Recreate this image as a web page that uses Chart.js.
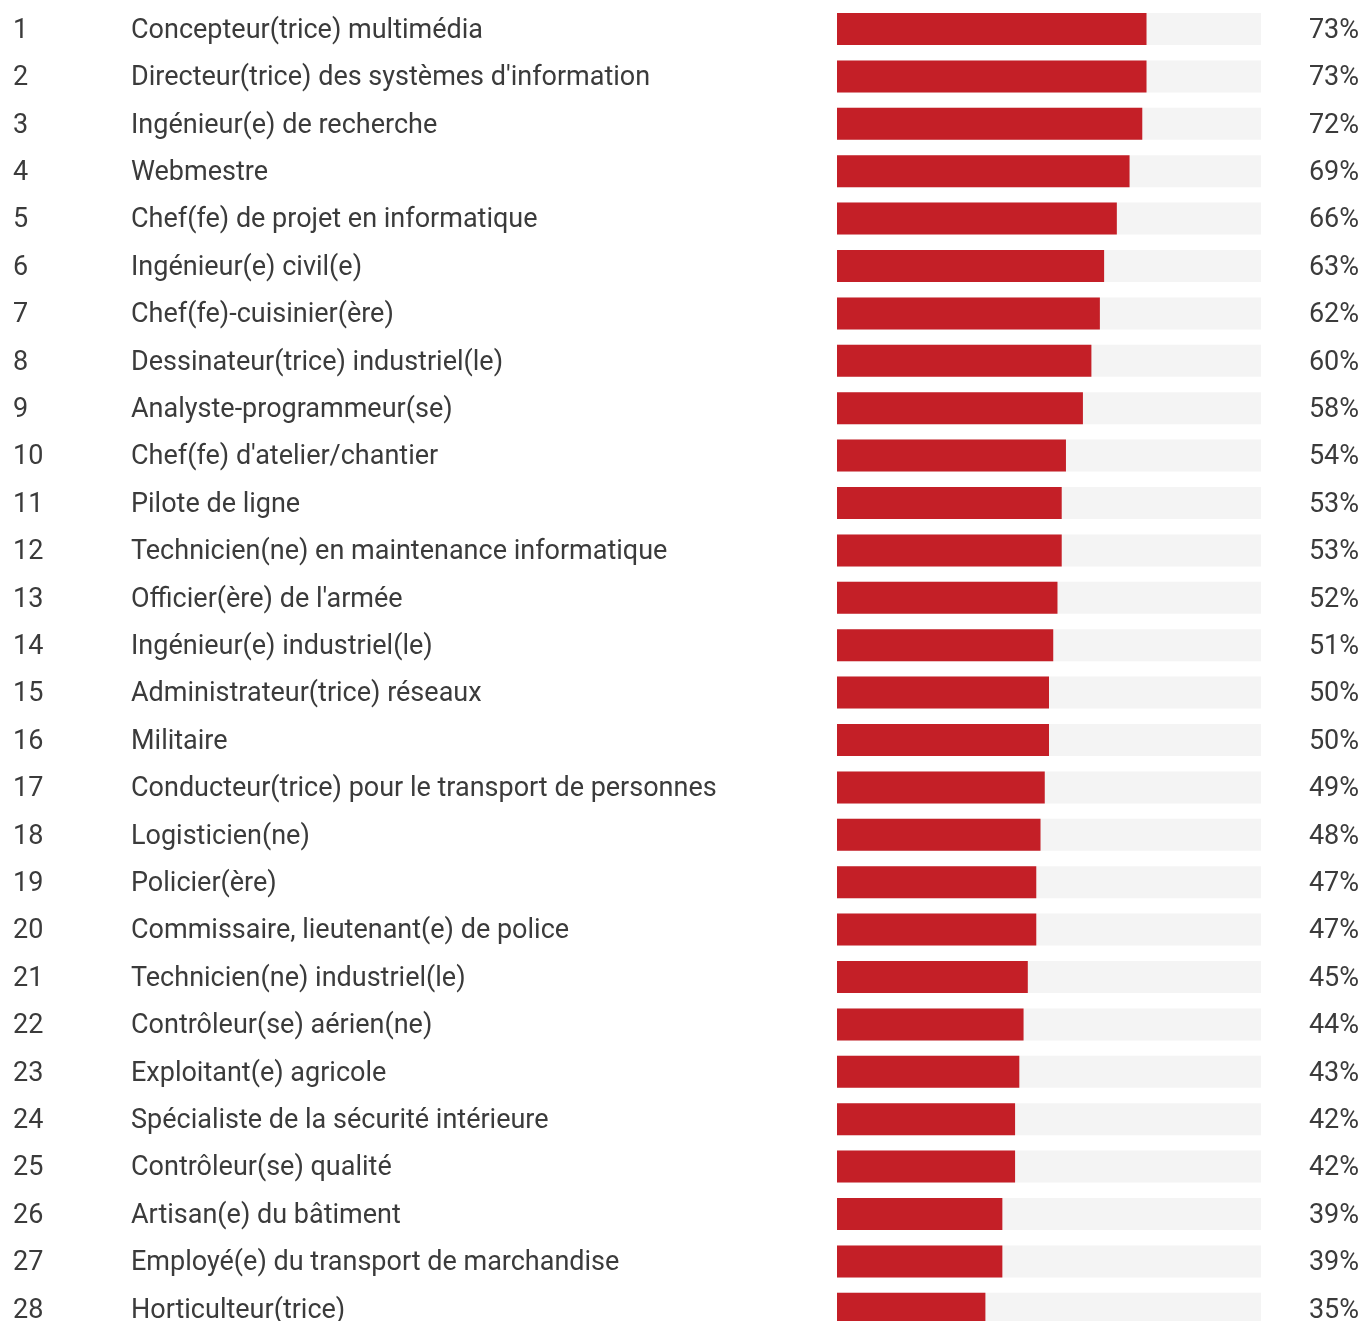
<!DOCTYPE html>
<html lang="fr">
<head>
<meta charset="utf-8">
<title>Métiers</title>
<script src="https://cdn.jsdelivr.net/npm/chart.js@4/dist/chart.umd.min.js"></script>
<style>
  html, body { margin: 0; padding: 0; background: #ffffff; overflow: hidden; }
  #wrap { width: 1364px; height: 1340px; }
</style>
</head>
<body>
<div id="wrap"><canvas id="chart" width="1364" height="1340"></canvas></div>
<script>
const ranks = ["1","2","3","4","5","6","7","8","9","10","11","12","13","14","15","16","17","18","19","20","21","22","23","24","25","26","27","28"];
const jobs = [
  "Concepteur(trice) multimédia",
  "Directeur(trice) des systèmes d'information",
  "Ingénieur(e) de recherche",
  "Webmestre",
  "Chef(fe) de projet en informatique",
  "Ingénieur(e) civil(e)",
  "Chef(fe)-cuisinier(ère)",
  "Dessinateur(trice) industriel(le)",
  "Analyste-programmeur(se)",
  "Chef(fe) d'atelier/chantier",
  "Pilote de ligne",
  "Technicien(ne) en maintenance informatique",
  "Officier(ère) de l'armée",
  "Ingénieur(e) industriel(le)",
  "Administrateur(trice) réseaux",
  "Militaire",
  "Conducteur(trice) pour le transport de personnes",
  "Logisticien(ne)",
  "Policier(ère)",
  "Commissaire, lieutenant(e) de police",
  "Technicien(ne) industriel(le)",
  "Contrôleur(se) aérien(ne)",
  "Exploitant(e) agricole",
  "Spécialiste de la sécurité intérieure",
  "Contrôleur(se) qualité",
  "Artisan(e) du bâtiment",
  "Employé(e) du transport de marchandise",
  "Horticulteur(trice)"
];
const shares = [73,73,72,69,66,63,62,60,58,54,53,53,52,51,50,50,49,48,47,47,45,44,43,42,42,39,39,35];
const fullScale = jobs.map(() => 100);

const TEXT = "#3b3b3b";
const FONT = "27px Roboto, 'Noto Sans', sans-serif";

// Rank, job title and percentage columns, placed on the category scale
const rowText = {
  id: "rowText",
  afterDatasetsDraw(chart) {
    const { ctx, scales: { y } } = chart;
    ctx.save();
    ctx.font = FONT;
    ctx.fillStyle = TEXT;
    ctx.textBaseline = "middle";
    jobs.forEach((job, i) => {
      const py = y.getPixelForValue(i) + 2;
      ctx.textAlign = "left";
      ctx.fillText(ranks[i], 13, py);
      ctx.fillText(job, 131, py);
      ctx.textAlign = "right";
      ctx.fillText(shares[i] + "%", 1359, py);
    });
    ctx.restore();
  }
};

new Chart(document.getElementById("chart"), {
  type: "bar",
  data: {
    labels: jobs,
    datasets: [
      {
        data: shares,
        backgroundColor: "#c41f27",
        grouped: false,
        barPercentage: 0.675,
        categoryPercentage: 1
      },
      {
        data: fullScale,
        backgroundColor: "#f4f4f4",
        grouped: false,
        barPercentage: 0.675,
        categoryPercentage: 1
      }
    ]
  },
  options: {
    indexAxis: "y",
    responsive: false,
    devicePixelRatio: 1,
    animation: false,
    layout: { padding: { left: 837, right: 103, top: 5.3, bottom: 7.5 } },
    plugins: { legend: { display: false }, tooltip: { enabled: false } },
    scales: {
      x: { display: false, min: 0, max: 100 },
      y: { display: false }
    }
  },
  plugins: [rowText]
});
</script>
</body>
</html>
